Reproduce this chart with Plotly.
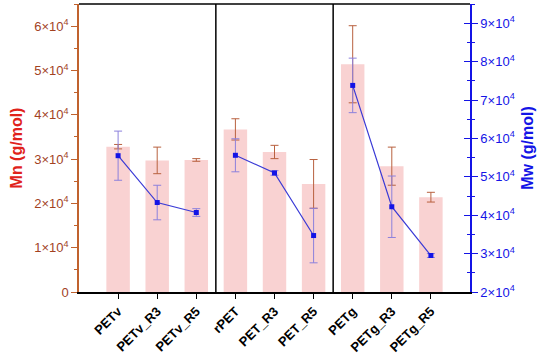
import plotly.graph_objects as go

categories = ["PETv", "PETv_R3", "PETv_R5", "rPET", "PET_R3", "PET_R5", "PETg", "PETg_R3", "PETg_R5"]
mn_values = [32800, 29700, 29800, 36700, 31600, 24400, 51400, 28400, 21400]
mn_errors = [500, 3000, 300, 2400, 1500, 5500, 8700, 4300, 1100]
mw_values = [55500, 43300, 40700, 55600, 51000, 34700, 73800, 42200, 29500]
mw_errors = [6400, 4500, 1000, 4300, 600, 7100, 7100, 8000, 500]
group_bounds = [2.5, 5.5]

mn_tickvals = [0, 10000, 20000, 30000, 40000, 50000, 60000]
mn_ticktext = ["0"] + [f"{i}×10<sup>4</sup>" for i in range(1, 7)]
mw_tickvals = [20000, 30000, 40000, 50000, 60000, 70000, 80000, 90000]
mw_ticktext = [f"{i}×10<sup>4</sup>" for i in range(2, 10)]

x = list(range(len(categories)))
FONT = "Liberation Sans, Arial, sans-serif"
BROWN = "#a2421f"
BLUE = "#1414e6"

fig = go.Figure()
fig.add_trace(go.Bar(
    x=x, y=mn_values, width=0.6,
    marker=dict(color="#f9d2d2", line=dict(width=0)),
    error_y=dict(type="data", array=mn_errors, color="#b8613f", thickness=1, width=4),
    yaxis="y", showlegend=False,
))
for s in (slice(0, 3), slice(3, 6), slice(6, 9)):
    fig.add_trace(go.Scatter(
        x=x[s], y=mw_values[s], mode="lines+markers",
        line=dict(color="#3a3ad6", width=1.2),
        marker=dict(symbol="square", size=5, color=BLUE),
        error_y=dict(type="data", array=mw_errors[s], color="#8c80dc", thickness=1, width=4),
        yaxis="y2", showlegend=False,
    ))
fig.add_trace(go.Scatter(x=[None], y=[None], yaxis="y3", showlegend=False, hoverinfo="skip"))

shapes = []
for b in group_bounds:
    shapes.append(dict(type="line", xref="x", yref="paper", x0=b, x1=b, y0=0, y1=1,
                       line=dict(color="black", width=1.5)))
shapes.append(dict(type="line", xref="paper", yref="paper", x0=0, x1=1, y0=1, y1=1,
                   line=dict(color="black", width=1.5)))

fig.update_layout(
    width=550, height=358,
    margin=dict(l=79, r=80, t=4, b=66, autoexpand=False),
    paper_bgcolor="white", plot_bgcolor="white",
    font=dict(family=FONT, size=13, color="black"),
    shapes=shapes,
    xaxis=dict(
        range=[-1, 9], tickvals=x, ticktext=[f"<b>{c}</b>" for c in categories],
        tickangle=-45, ticks="outside", ticklen=5, tickcolor="black",
        showline=True, linecolor="black", linewidth=1.5, showgrid=False, zeroline=False,
        tickfont=dict(size=13, color="black"), automargin=False,
    ),
    yaxis=dict(
        range=[0, 65000], tickvals=mn_tickvals, ticktext=mn_ticktext,
        ticks="outside", ticklen=6, tickcolor="#c0622e", tickwidth=1,
        minor=dict(dtick=5000, ticks="outside", ticklen=3, tickcolor="#c0622e", showgrid=False),
        showline=True, linecolor="#c0622e", linewidth=1.5, showgrid=False, zeroline=False,
        tickfont=dict(size=13, color=BROWN), automargin=False,
        title=dict(text="<b>Mn (g/mol)</b>", font=dict(size=16, color="#e0231b"), standoff=8),
    ),
    yaxis2=dict(
        range=[20000, 95000], tickvals=mw_tickvals, ticktext=mw_ticktext,
        overlaying="y", side="right", anchor="x",
        ticks="outside", ticklen=6, tickcolor=BLUE, tickwidth=1,
        minor=dict(dtick=5000, ticks="outside", ticklen=3, tickcolor=BLUE, showgrid=False),
        showline=True, linecolor=BLUE, linewidth=1.5, showgrid=False, zeroline=False,
        tickfont=dict(size=13, color=BLUE), automargin=False,
        title=dict(text="<b>Mw (g/mol)</b>", font=dict(size=16, color=BLUE), standoff=8),
    ),
    yaxis3=dict(
        range=[20000, 95000], tickvals=mw_tickvals, showticklabels=False,
        overlaying="y", side="right", anchor="x",
        ticks="inside", ticklen=6, tickcolor=BLUE, tickwidth=1,
        minor=dict(dtick=5000, ticks="inside", ticklen=3, tickcolor=BLUE, showgrid=False),
        showline=False, showgrid=False, zeroline=False, automargin=False,
    ),
)

fig.write_html("out.html", config={"displayModeBar": False},
               post_script="document.body.style.margin='0';")
